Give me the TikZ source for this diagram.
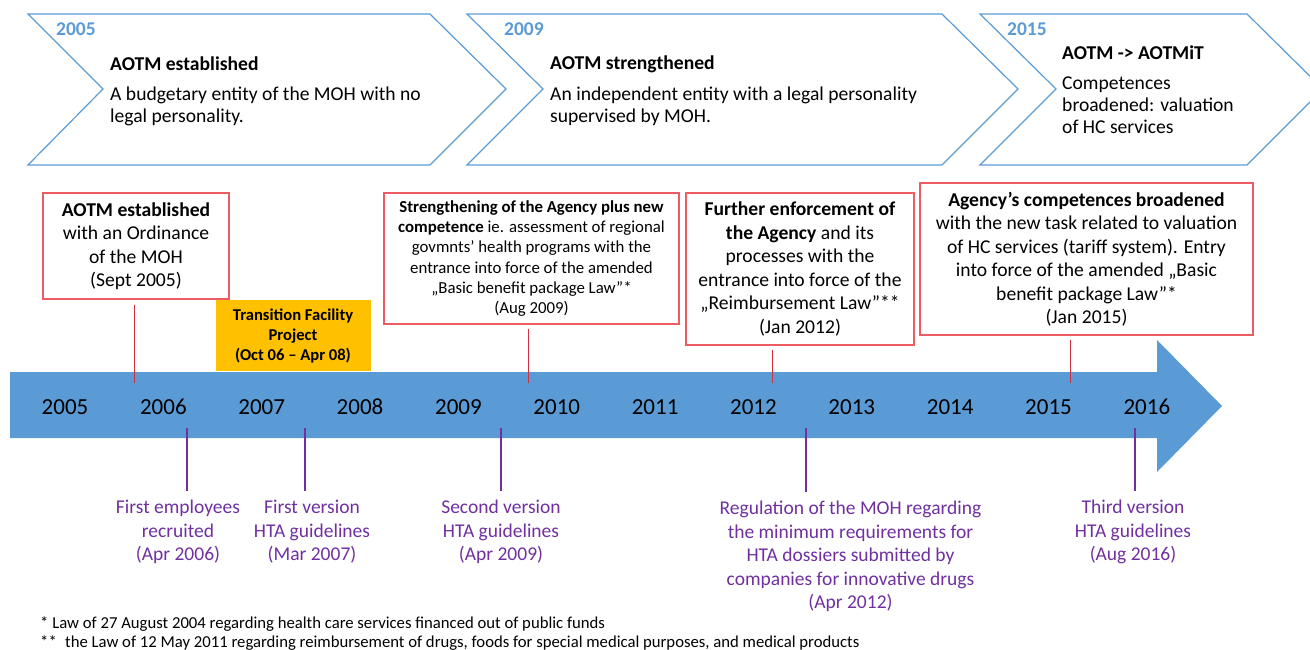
\documentclass[tikz,border=0pt]{standalone}
\usepackage{fontspec}
\setmainfont{Carlito}
\definecolor{cblue}{HTML}{5B9BD5}
\definecolor{cbox}{HTML}{EE5C63}
\definecolor{cline}{HTML}{D0303A}
\definecolor{cpurple}{HTML}{7030A0}
\definecolor{corange}{HTML}{FFC000}
\tikzset{
 chev/.style={draw=cblue, line width=1.2pt, line join=miter},
 chevyear/.style={text=cblue, font=\bfseries\fontsize{19.5}{22}\selectfont, anchor=west, inner sep=0},
 chevtitle/.style={font=\bfseries\fontsize{19.6}{22}\selectfont, anchor=west, inner sep=0},
 chevbody/.style={font=\fontsize{19.6}{22}\selectfont, align=left, anchor=west, inner sep=0},
 evbox/.style={draw=cbox, line width=1.3pt, fill=white, align=center, inner sep=0, font=\fontsize{19.6}{23.5}\selectfont},
 tfbox/.style={fill=corange, align=center, inner sep=0, font=\bfseries\fontsize{16.6}{20}\selectfont},
 redc/.style={draw=cline, line width=1pt},
 purc/.style={draw=cpurple, line width=1.2pt},
 purtext/.style={text=cpurple, font=\fontsize{19.5}{23.5}\selectfont, align=center, inner sep=0},
 yearlbl/.style={font=\fontsize{23}{26}\selectfont, inner sep=0},
 foot/.style={font=\fontsize{16.7}{19}\selectfont, anchor=base west, inner sep=0},
}
\begin{document}
\begin{tikzpicture}[x=1pt,y=-1pt]
\useasboundingbox (0,0) rectangle (1310,650);
\clip (0,0) rectangle (1310,650);

% top chevrons
\draw[chev] (28,14) -- (430,14) -- (506,89) -- (430,165) -- (28,165) -- (103,89) -- cycle;
\draw[chev] (467,14) -- (942,14) -- (1018,89) -- (942,165) -- (467,165) -- (543,89) -- cycle;
\draw[chev] (980,14) -- (1247,14) -- (1323,89) -- (1247,165) -- (980,165) -- (1056,89) -- cycle;

\node[chevyear] (y1) at (56,29) {2005};
\node[chevtitle] (t1) at (110,64) {AOTM established};
\node[chevbody] (d1) at (110,106) {A budgetary entity of the MOH with no\\legal personality.};

\node[chevyear] (y2) at (504,29) {2009};
\node[chevtitle] (t2) at (550,64) {AOTM strengthened};
\node[chevbody] (d2) at (550,106) {An independent entity with a legal personality\\supervised by MOH.};

\node[chevyear] (y3) at (1007,29) {2015};
\node[chevtitle] (t3) at (1062,53) {AOTM -> AOTMiT};
\node[chevbody] (d3) at (1062,105.5) {Competences\\broadened: valuation\\of HC services};

% main arrow
\fill[cblue] (10,372) -- (1157,372) -- (1157,340) -- (1222,406) -- (1157,472) -- (1157,438) -- (10,438) -- cycle;
\foreach \i in {0,...,11}{
  \pgfmathtruncatemacro{\yr}{2005+\i}
  \node[yearlbl] (yr\yr) at (65+98.35*\i,407) {\yr};
}

% upper events
\node[evbox, minimum width=186, minimum height=106] (b1) at (136,246)
 {\textbf{AOTM established}\\with an Ordinance\\of the MOH\\(Sept 2005)};
\node[tfbox, minimum width=155, minimum height=71] (tf) at (293,335.5)
 {Transition Facility\\Project\\(Oct 06 – Apr 08)};
\node[evbox, minimum width=295, minimum height=131, font=\fontsize{16.8}{20.2}\selectfont] (b2) at (531.5,258.5)
 {\textbf{Strengthening of the Agency plus new}\\\textbf{competence} ie. assessment of regional\\govmnts’ health programs with the\\entrance into force of the amended\\„Basic benefit package Law”*\\(Aug 2009)};
\node[evbox, minimum width=228, minimum height=152] (b3) at (800,269)
 {\textbf{Further enforcement of}\\\textbf{the Agency} and its\\processes with the\\entrance into force of the\\„Reimbursement Law”**\\(Jan 2012)};
\node[evbox, minimum width=333, minimum height=152] (b4) at (1086.5,259)
 {\textbf{Agency’s competences broadened}\\with the new task related to valuation\\of HC services (tariff system). Entry\\into force of the amended „Basic\\benefit package Law”*\\(Jan 2015)};

\coordinate (r1) at (134,383);
\coordinate (r2) at (528,383);
\coordinate (r3) at (772,383);
\coordinate (r4) at (1070,383);
\draw[redc] (r1 |- b1.south) ++(0,5) -- (r1);
\draw[redc] (r2 |- b2.south) ++(0,4) -- (r2);
\draw[redc] (r3 |- b3.south) ++(0,4) -- (r3);
\draw[redc] (r4 |- b4.south) ++(0,4) -- (r4);

% lower events
\node[purtext] (l1) at (178,532) {First employees\\recruited\\(Apr 2006)};
\node[purtext] (l2) at (312,532) {First version\\HTA guidelines\\(Mar 2007)};
\node[purtext] (l3) at (501,532) {Second version\\HTA guidelines\\(Apr 2009)};
\node[purtext] (l4) at (850.5,556.5) {Regulation of the MOH regarding\\the minimum requirements for\\HTA dossiers submitted by\\companies for innovative drugs\\(Apr 2012)};
\node[purtext] (l5) at (1133,532) {Third version\\HTA guidelines\\(Aug 2016)};

\coordinate (p1) at (187,428);
\coordinate (p2) at (305,428);
\coordinate (p3) at (501,428);
\coordinate (p4) at (806,428);
\coordinate (p5) at (1135,428);
\draw[purc, shorten >=9pt] (p1) -- (p1 |- l1.north);
\draw[purc, shorten >=9pt] (p2) -- (p2 |- l2.north);
\draw[purc, shorten >=9pt] (p3) -- (p3 |- l3.north);
\draw[purc, shorten >=9pt] (p4) -- (p4 |- l4.north);
\draw[purc, shorten >=9pt] (p5) -- (p5 |- l5.north);

% footnotes
\node[foot] (f1) at (40,628) {* Law of 27 August 2004 regarding health care services financed out of public funds};
\node[foot] (f2) at (40,647) {**\enspace the Law of 12 May 2011 regarding reimbursement of drugs, foods for special medical purposes, and medical products};
\end{tikzpicture}
\end{document}
